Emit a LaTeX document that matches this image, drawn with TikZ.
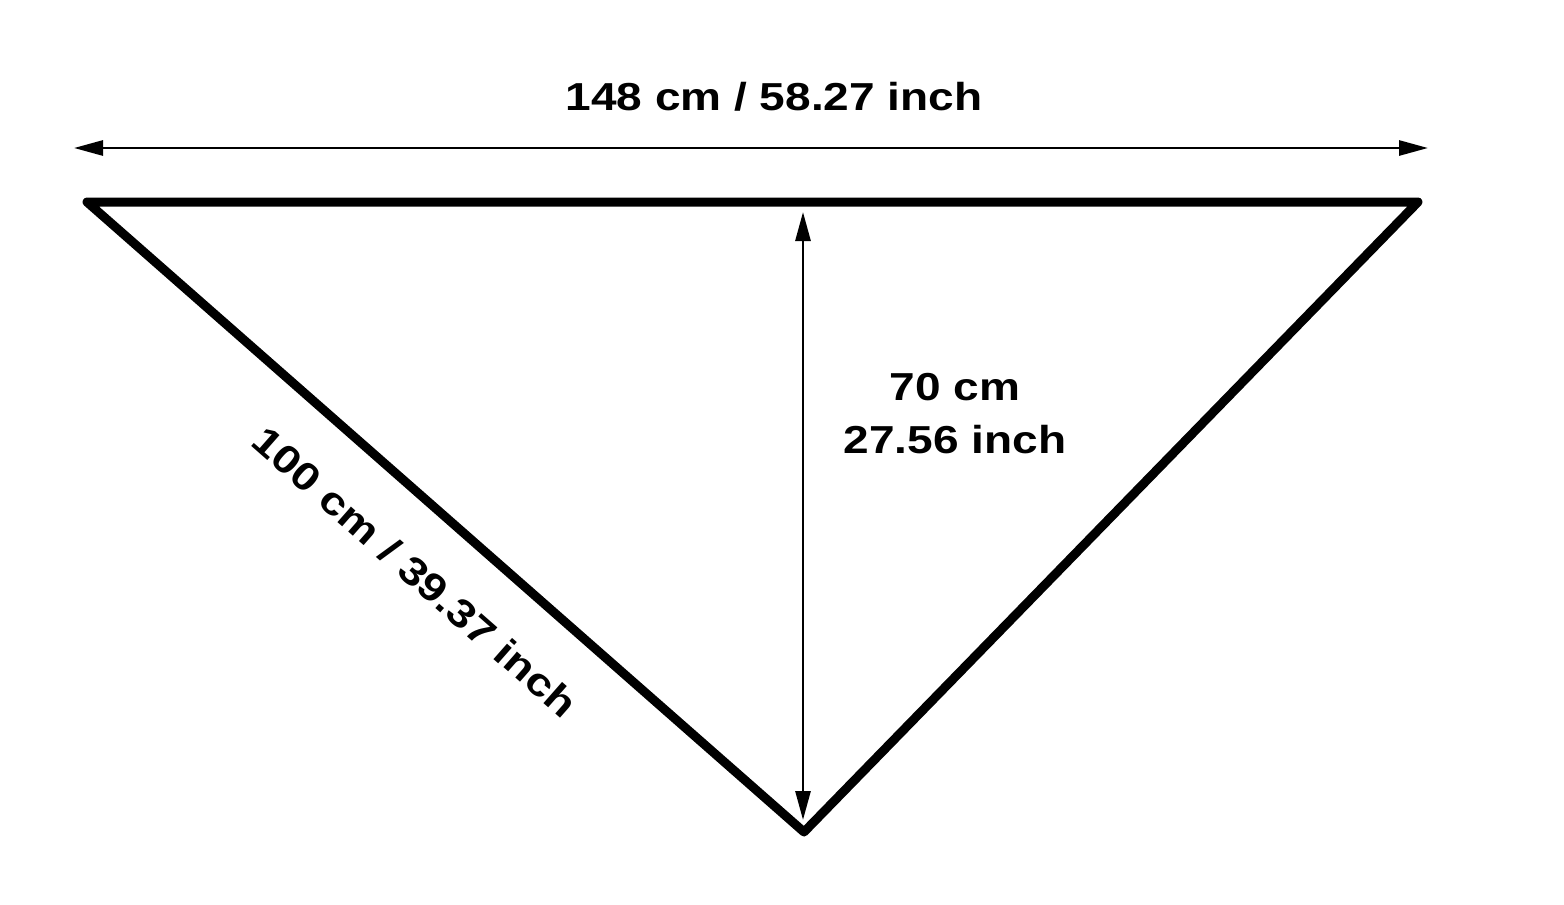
\documentclass[tikz,border=0pt]{standalone}
\usepackage{fontspec}
\setmainfont{Liberation Sans}[FakeStretch=1.18]
\usetikzlibrary{arrows.meta}

\begin{document}
\begin{tikzpicture}
  [x=0.5pt,y=-0.5pt,
   measure/.style={line width=1.4pt,{Triangle[length=14.5pt,width=7.5pt]}-{Triangle[length=14.5pt,width=7.5pt]}},
   lbl/.style={inner sep=0pt,font=\fontsize{19.5}{26.5}\selectfont\bfseries}]
  \useasboundingbox (0,0) rectangle (1564,905);
  \coordinate (tl) at (87,202);
  \coordinate (tr) at (1418,202);
  \coordinate (bt) at (804,832);
  \coordinate (wl) at (74,148);
  \coordinate (wr) at (1428,148);
  \coordinate (ht) at (803,212);
  \coordinate (hb) at (803,820);
  \draw[line width=4.5pt,line join=round] (tl) -- (tr) -- (bt) -- cycle;
  \draw[measure] (wl) -- (wr);
  \draw[measure] (ht) -- (hb);
  \node[lbl,anchor=base] (width) at (774,110) {148 cm / 58.27 inch};
  \node[lbl,align=center] (height) at (955,414) {70 cm\\27.56 inch};
  \node[lbl,rotate=-41.3] (side) at (415,572) {100 cm / 39.37 inch};
\end{tikzpicture}
\end{document}
